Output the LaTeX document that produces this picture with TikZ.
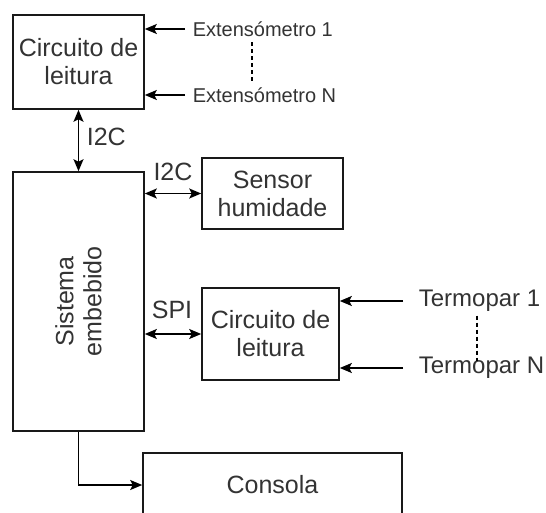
\documentclass[tikz,border=0pt]{standalone}
\usepackage{fontspec}
\setmainfont{Liberation Sans}
\usetikzlibrary{positioning,arrows.meta}

\begin{document}
\begin{tikzpicture}[
  x=1pt,y=-1pt,
  line width=1.6pt,
  bloco/.style={draw=black!90,rectangle,align=center,inner sep=0pt,text=black!80,font=\fontsize{25}{28}\selectfont},
  rotulo/.style={text=black!80,inner sep=0pt,font=\fontsize{25}{28}\selectfont},
  fonte/.style={text=black!80,inner xsep=7pt,inner ysep=2pt,anchor=west},
  traco/.style={dashed,dash pattern=on 4pt off 3pt,line width=1.2pt},
  seta/.style={-{Stealth[length=12pt,width=10pt,inset=2.5pt]}},
  dupla/.style={{Stealth[length=12pt,width=10pt,inset=2.5pt]}-{Stealth[length=12pt,width=10pt,inset=2.5pt]}}
]
\useasboundingbox (0,0) rectangle (546,513);
\clip (0,0) rectangle (546,513);
% blocos
\node[bloco,minimum width=131pt,minimum height=94pt] (leit1) at (78.5,62) {Circuito de\\leitura};
\node[bloco,minimum width=131pt,minimum height=259pt] (sist) at (78.5,301.5) {};
\node[rotulo,rotate=90,align=center] (sisttxt) at (sist.center) {Sistema\\embebido};
\node[bloco,minimum width=141pt,minimum height=71pt] (sensor) at (272.5,193.5) {Sensor\\humidade};
\node[bloco,minimum width=137pt,minimum height=92pt] (leit2) at (270.5,334) {Circuito de\\leitura};
\node[bloco,minimum width=259pt,minimum height=64pt] (consola) at (272.5,485) {Consola};
% entradas
\node[fonte,font=\fontsize{20}{24}\selectfont] (ext1) at (185,29) {Extensómetro 1};
\node[fonte,font=\fontsize{20}{24}\selectfont] (extN) at (185,95) {Extensómetro N};
\node[fonte,font=\fontsize{24}{28}\selectfont,inner xsep=15pt] (tp1) at (403,301) {Termopar 1};
\node[fonte,font=\fontsize{24}{28}\selectfont,inner xsep=15pt] (tpN) at (403,368) {Termopar N};
\coordinate (dx1) at (252,0);
\coordinate (dx2) at (477,0);
% barramentos
\node[rotulo,anchor=west] (i2ca) at (86,137) {I2C};
\node[rotulo] (i2cb) at (173,172) {I2C};
\node[rotulo] (spi) at (172,310) {SPI};
\draw[dupla] (leit1.south) -- (sist.north);
\draw[dupla] (sist.east |- sensor.west) -- (sensor.west);
\draw[dupla] (sist.east |- leit2.west) -- (leit2.west);
\draw[seta] (sist.south) |- (consola.west);
\draw[seta] (ext1.west) -- (leit1.east |- ext1.west);
\draw[seta] (extN.west) -- (leit1.east |- extN.west);
\draw[seta] (tp1.west) -- (leit2.east |- tp1.west);
\draw[seta] (tpN.west) -- (leit2.east |- tpN.west);
\draw[traco,shorten <=3pt,shorten >=1pt] (ext1.south -| dx1) -- (extN.north -| dx1);
\draw[traco,shorten <=1pt,shorten >=-7pt] (tp1.south -| dx2) -- (tpN.north -| dx2);
\end{tikzpicture}
\end{document}
